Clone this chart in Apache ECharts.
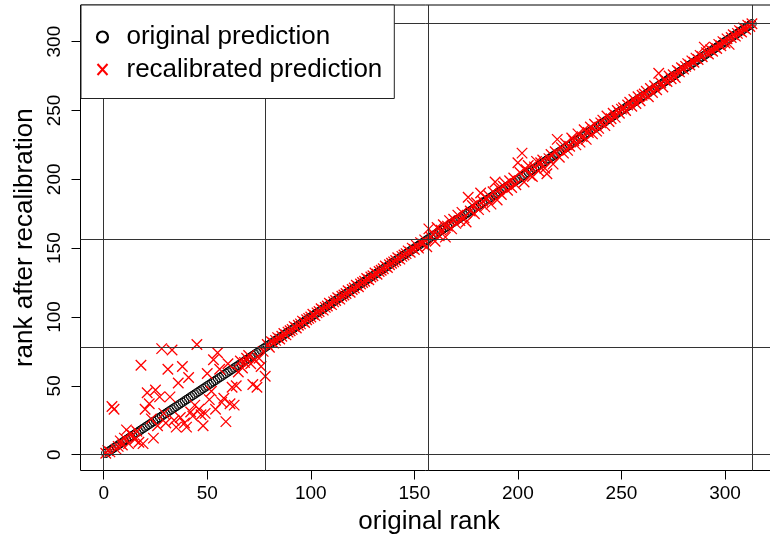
<!DOCTYPE html>
<html>
<head>
<meta charset="utf-8">
<script src="https://cdn.jsdelivr.net/npm/echarts@6/dist/echarts.min.js"></script>
<style>
html, body { margin: 0; padding: 0; background: #fff; }
#chart { width: 770px; height: 541px; }
</style>
</head>
<body>
<div id="chart"></div>
<script>
// original rank of each item (x), also its original predicted rank
const originalRank = [
  1,2,3,4,5,6,7,8,9,10,11,12,13,14,15,16,17,18,19,20,
  21,22,23,24,25,26,27,28,29,30,31,32,33,34,35,36,37,38,39,40,
  41,42,43,44,45,46,47,48,49,50,51,52,53,54,55,56,57,58,59,60,
  61,62,63,64,65,66,67,68,69,70,71,72,73,74,75,76,77,78,79,80,
  81,82,83,84,85,86,87,88,89,90,91,92,93,94,95,96,97,98,99,100,
  101,102,103,104,105,106,107,108,109,110,111,112,113,114,115,116,117,118,119,120,
  121,122,123,124,125,126,127,128,129,130,131,132,133,134,135,136,137,138,139,140,
  141,142,143,144,145,146,147,148,149,150,151,152,153,154,155,156,157,158,159,160,
  161,162,163,164,165,166,167,168,169,170,171,172,173,174,175,176,177,178,179,180,
  181,182,183,184,185,186,187,188,189,190,191,192,193,194,195,196,197,198,199,200,
  201,202,203,204,205,206,207,208,209,210,211,212,213,214,215,216,217,218,219,220,
  221,222,223,224,225,226,227,228,229,230,231,232,233,234,235,236,237,238,239,240,
  241,242,243,244,245,246,247,248,249,250,251,252,253,254,255,256,257,258,259,260,
  261,262,263,264,265,266,267,268,269,270,271,272,273,274,275,276,277,278,279,280,
  281,282,283,284,285,286,287,288,289,290,291,292,293,294,295,296,297,298,299,300,
  301,302,303,304,305,306,307,308,309,310,311,312,313
]
// rank after recalibration
const recalibratedRank = [
  1,3,2,35,33,4,6,10,7,12,
  18,8,15,14,11,17,9,65,8,33,
  45,37,26,12,47,21,42,77,30,23,
  62,42,76,25,20,52,27,64,23,20,
  56,31,28,36,80,33,29,21,30,59,
  40,46,69,33,74,62,38,41,24,66,
  37,49,36,50,60,68,63,67,70,72,
  66,51,69,49,70,64,75,57,80,78,
  82,81,83,85,84,86,88,87,89,90,
  91,93,92,94,95,97,96,98,99,100,
  102,101,103,104,106,105,107,108,110,109,
  111,112,114,113,115,116,117,119,118,120,
  121,123,122,124,125,126,128,127,129,130,
  132,131,133,134,135,137,136,138,139,140,
  141,143,142,144,145,146,148,147,150,149,
  152,150,154,153,156,151,164,158,160,155,
  165,159,163,167,158,166,170,164,171,168,
  174,170,176,172,169,187,177,181,175,183,
  178,190,184,180,186,188,182,191,198,185,
  193,189,195,197,192,199,194,201,196,212,
  205,219,198,207,210,203,202,209,213,206,
  212,214,208,204,215,218,211,220,229,216,
  223,219,226,221,224,230,228,225,233,227,
  231,236,229,234,238,233,240,235,237,241,
  243,239,246,242,244,248,245,250,248,251,
  252,250,254,256,253,258,255,260,257,261,
  262,264,260,266,263,268,265,277,270,267,
  272,271,275,273,276,274,279,278,281,280,
  282,284,283,286,285,288,287,290,289,296,
  292,291,294,293,296,295,298,297,300,299,
  302,298,303,305,304,306,308,307,310,309,
  312,311,313
]
const tickValues = [0, 50, 100, 150, 200, 250, 300]
const refLines = [0, 78.25, 156.5, 313]
const seriesNames = ['original prediction', 'recalibrated prediction']

const font = 'Liberation Sans, Arial, Helvetica, sans-serif'
const crossPath = 'path://M0,0L10,10M10,0L0,10'

const myChart = echarts.init(document.getElementById('chart'))

const lines = []
refLines.forEach(v => { lines.push({ xAxis: v }) })
refLines.forEach(v => { lines.push({ yAxis: v }) })

const option = {
  animation: false,
  grid: {
    left: 80.5,
    top: 5,
    width: 697.3,
    height: 465.5,
    outerBoundsMode: 'none',
    containLabel: false,
    show: true,
    borderColor: '#000',
    borderWidth: 1,
    backgroundColor: 'transparent'
  },
  legend: {
    left: 81,
    top: 5,
    orient: 'vertical',
    selectedMode: false,
    backgroundColor: '#fff',
    borderColor: '#222',
    borderWidth: 1,
    borderRadius: 0,
    padding: [19, 12, 16, 0],
    itemGap: 6.5,
    itemWidth: 38,
    itemHeight: 11,
    textStyle: { fontFamily: font, fontSize: 26, lineHeight: 26, color: '#000' },
    data: [
      { name: seriesNames[0], icon: 'circle',
        itemStyle: { color: 'none', borderColor: '#000', borderWidth: 2.2 } },
      { name: seriesNames[1], icon: 'path://M0,0M14,0L24,11M24,0L14,11M38,11',
        itemStyle: { color: 'none', borderColor: '#ff0000', borderWidth: 2 } }
    ],
    z: 10
  },
  xAxis: {
    type: 'value',
    min: -11.2,
    max: 325.5,
    name: 'original rank',
    nameLocation: 'middle',
    nameGap: 37,
    nameTextStyle: { fontFamily: font, fontSize: 26, color: '#000' },
    axisLine: { show: false, onZero: false },
    splitLine: { show: false },
    axisTick: { show: true, length: 9, customValues: tickValues, lineStyle: { color: '#000' } },
    axisLabel: { customValues: tickValues, margin: 14, fontFamily: font, fontSize: 19, color: '#000' }
  },
  yAxis: {
    type: 'value',
    min: -11.5,
    max: 326.6,
    name: 'rank after recalibration',
    nameLocation: 'middle',
    nameGap: 40,
    nameTextStyle: { fontFamily: font, fontSize: 26, color: '#000' },
    axisLine: { show: false, onZero: false },
    splitLine: { show: false },
    axisTick: { show: true, length: 9, customValues: tickValues, lineStyle: { color: '#000' } },
    axisLabel: { customValues: tickValues, rotate: 90, margin: 16, fontFamily: font, fontSize: 19, color: '#000' }
  },
  series: [
    {
      name: seriesNames[0],
      type: 'scatter',
      symbol: 'circle',
      symbolSize: 8.5,
      itemStyle: { color: 'none', borderColor: '#000', borderWidth: 1, opacity: 1 },
      data: originalRank.map((r, i) => [r, originalRank[i]])
    },
    {
      name: seriesNames[1],
      type: 'scatter',
      symbol: crossPath,
      symbolSize: 10.5,
      itemStyle: { color: 'none', borderColor: '#ff0000', borderWidth: 1.3, opacity: 1 },
      data: originalRank.map((r, i) => [r, recalibratedRank[i]]),
      markLine: {
        silent: true,
        symbol: 'none',
        label: { show: false },
        lineStyle: { color: '#333', width: 1, type: 'solid' },
        data: lines
      }
    }
  ]
}
myChart.setOption(option)
</script>
</body>
</html>
